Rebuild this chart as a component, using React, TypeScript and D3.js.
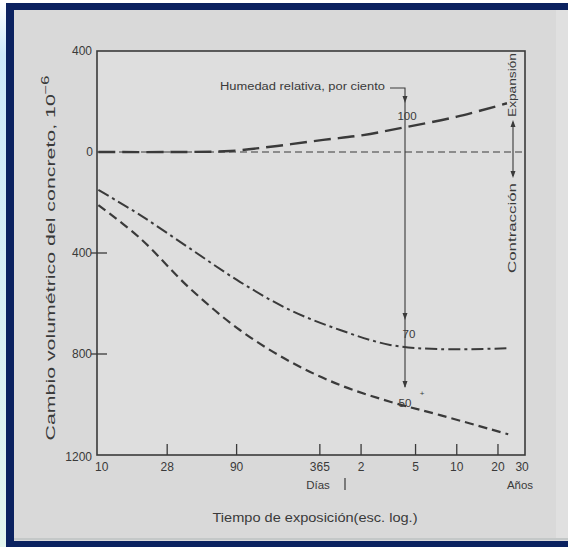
import React from "react";
import * as d3 from "d3";

// ---- data (days of exposure, volume change x10^-6; expansion positive) ----
const days100 = [8.8, 28, 81, 178, 386, 755, 1528, 3664, 8490];
const vals100 = [0, 0, 4, 24, 48, 67, 98, 140, 193];

const days70 = [8.8, 17.8, 41, 95, 221, 513, 1189, 2754, 8670];
const vals70 = [-150, -250, -382, -514, -626, -705, -764, -781, -777];

const days50 = [8.8, 17.8, 41, 95, 221, 513, 1189, 2754, 8670];
const vals50 = [-210, -342, -540, -705, -830, -923, -989, -1042, -1118];

const xTickDays = [28, 90, 365, 730, 1825, 3650, 7300];
const xLabelDays = [9.3, 28, 90, 365, 730, 1825, 3650, 7300, 10950];
const xLabelTexts = ["10", "28", "90", "365", "2", "5", "10", "20", "30"];
const yTickVals = [400, 0, -400, -800, -1200];
const yMarkVals = [-400, -800];

const W = 568;
const H = 547;
const FONT = "'Liberation Sans', Arial, sans-serif";
const INK = "#3a3a3a";

export default function App() {
  const x = d3.scaleLog().domain([8.6, 11500]).range([97, 525]);
  const y = d3.scaleLinear().domain([400, -1200]).range([51, 455]);
  const line = d3
    .line<[number, number]>()
    .x((d) => x(d[0]))
    .y((d) => y(d[1]))
    .curve(d3.curveCatmullRom.alpha(0.5));

  const p100 = line(days100.map((d, i) => [d, vals100[i]]) as [number, number][]);
  const p70 = line(days70.map((d, i) => [d, vals70[i]]) as [number, number][]);
  const p50 = line(days50.map((d, i) => [d, vals50[i]]) as [number, number][]);

  const ax = 405; // humidity arrow x
  const y0 = y(0);

  const arrowDown = (px: number, py: number) =>
    `M${px - 2.5},${py - 7} L${px + 2.5},${py - 7} L${px},${py} Z`;
  const arrowUp = (px: number, py: number) =>
    `M${px - 2.5},${py + 7} L${px + 2.5},${py + 7} L${px},${py} Z`;

  return (
    <svg
      width={W}
      height={H}
      style={{ position: "fixed", left: 0, top: 0 }}
      xmlns="http://www.w3.org/2000/svg"
    >
      <defs>
        <linearGradient id="bgl" x1="0" y1="0" x2="0" y2="1">
          <stop offset="0" stopColor="#ffffff" />
          <stop offset="0.1" stopColor="#cde9fb" />
          <stop offset="1" stopColor="#e3f5ee" />
        </linearGradient>
      </defs>
      <rect x={0} y={0} width={W} height={H} fill="url(#bgl)" />
      {/* navy frame */}
      <rect x={6} y={3} width={W - 6} height={H - 3} fill="#0b2260" />
      <rect x={14} y={10} width={W - 14} height={531} fill="#d9d9d9" />
      <rect x={14} y={538} width={W - 14} height={2} fill="#c4c8c8" />
      <rect x={556} y={10} width={12} height={528} fill="#e0e0e0" />

      {/* plot frame */}
      <rect x={97} y={51} width={428} height={404} fill="#dedede" stroke={INK} strokeWidth={1.6} />

      {/* zero line */}
      <line x1={97} x2={525} y1={y0} y2={y0} stroke={INK} strokeWidth={1.2} strokeDasharray="7 4" />

      {/* y ticks */}
      {yMarkVals.map((v) => (
        <line key={v} x1={91} x2={107} y1={y(v)} y2={y(v)} stroke={INK} strokeWidth={1.3} />
      ))}
      {yTickVals.map((v) => (
        <text
          key={v}
          x={v === 0 ? 93 : 92}
          y={y(v) + (v === -1200 ? 6 : 4)}
          textAnchor="end"
          fontFamily={FONT}
          fontSize={12}
          fill={INK}
        >
          {Math.abs(v)}
        </text>
      ))}

      {/* x ticks */}
      {xTickDays.map((d) => (
        <line key={d} x1={x(d)} x2={x(d)} y1={455} y2={444} stroke={INK} strokeWidth={1.3} />
      ))}
      {xLabelDays.map((d, i) => (
        <text
          key={i}
          x={x(d)}
          y={471}
          textAnchor="middle"
          fontFamily={FONT}
          fontSize={12}
          fill={INK}
        >
          {xLabelTexts[i]}
        </text>
      ))}
      <text x={318} y={489} textAnchor="middle" fontFamily={FONT} fontSize={11.5} fill={INK}>
        Días
      </text>
      <line x1={345} x2={345} y1={478} y2={490} stroke={INK} strokeWidth={1.2} />
      <text x={520} y={489} textAnchor="middle" fontFamily={FONT} fontSize={11.5} fill={INK}>
        Años
      </text>
      <text
        x={315}
        y={522}
        textAnchor="middle"
        fontFamily={FONT}
        fontSize={12.5}
        fill={INK}
        textLength={205}
        lengthAdjust="spacingAndGlyphs"
      >
        Tiempo de exposición(esc. log.)
      </text>

      {/* y axis label */}
      <text
        transform={`translate(55,258) rotate(-90)`}
        textAnchor="middle"
        fontFamily={FONT}
        fontSize={13}
        fill={INK}
        textLength={365}
        lengthAdjust="spacingAndGlyphs"
      >
        Cambio volumétrico del concreto,  10
        <tspan dy={-6} fontSize={10}>
          −6
        </tspan>
      </text>

      {/* curves */}
      <path d={p100 ?? ""} fill="none" stroke={INK} strokeWidth={2.4} strokeDasharray="17 7" />
      <path d={p70 ?? ""} fill="none" stroke={INK} strokeWidth={2} strokeDasharray="12 4 3 4" />
      <path d={p50 ?? ""} fill="none" stroke={INK} strokeWidth={2.2} strokeDasharray="9 5" />

      {/* humidity annotation */}
      <text
        x={220}
        y={90}
        fontFamily={FONT}
        fontSize={10}
        fill={INK}
        textLength={165}
        lengthAdjust="spacingAndGlyphs"
      >
        Humedad relativa, por ciento
      </text>
      <polyline points={`390,88 ${ax},88 ${ax},387`} fill="none" stroke={INK} strokeWidth={1.1} />
      <path d={arrowDown(ax, 103)} fill={INK} />
      <path d={arrowDown(ax, 320)} fill={INK} />
      <path d={arrowDown(ax, 388)} fill={INK} />
      <text x={407} y={120} textAnchor="middle" fontFamily={FONT} fontSize={11.5} fill={INK}>
        100
      </text>
      <text x={409} y={338} textAnchor="middle" fontFamily={FONT} fontSize={11.5} fill={INK}>
        70
      </text>
      <text x={405} y={407} textAnchor="middle" fontFamily={FONT} fontSize={11.5} fill={INK}>
        50
      </text>
      <text x={422} y={396} textAnchor="middle" fontFamily={FONT} fontSize={8} fill={INK}>
        +
      </text>

      {/* expansion / contraction */}
      <line x1={513} x2={513} y1={122} y2={176} stroke={INK} strokeWidth={1.1} />
      <path d={arrowUp(513, 120)} fill={INK} />
      <path d={arrowDown(513, 178)} fill={INK} />
      <text
        transform="translate(516,85) rotate(-90)"
        textAnchor="middle"
        fontFamily={FONT}
        fontSize={10}
        fill={INK}
        textLength={64}
        lengthAdjust="spacingAndGlyphs"
      >
        Expansión
      </text>
      <text
        transform="translate(516,228) rotate(-90)"
        textAnchor="middle"
        fontFamily={FONT}
        fontSize={10}
        fill={INK}
        textLength={90}
        lengthAdjust="spacingAndGlyphs"
      >
        Contracción
      </text>
    </svg>
  );
}
